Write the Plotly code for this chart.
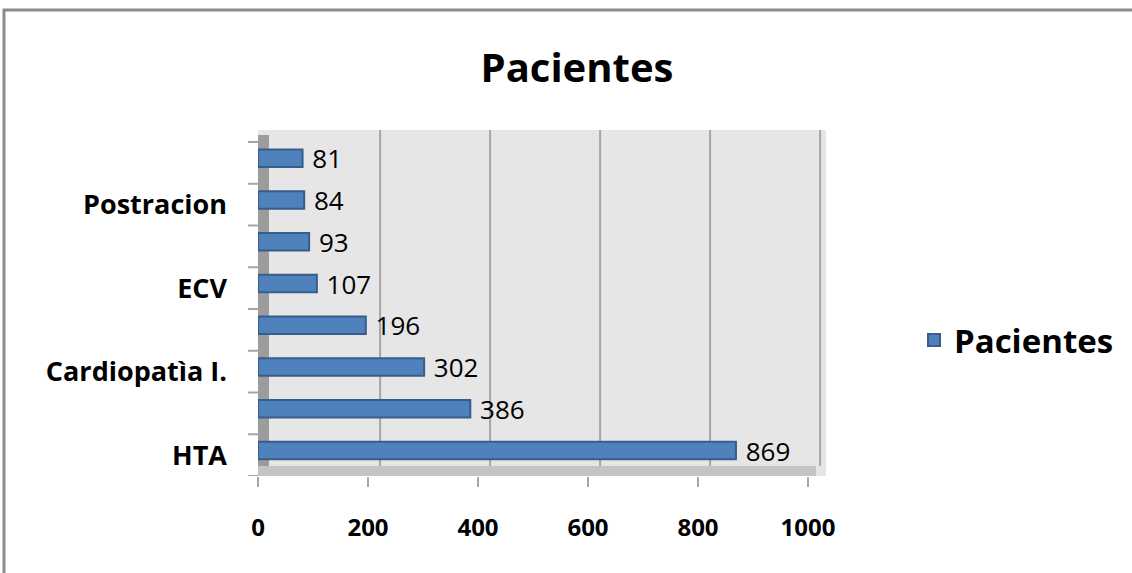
import plotly.graph_objects as go

# datos (de abajo hacia arriba)
posiciones = [0, 1, 2, 3, 4, 5, 6, 7]
etiquetas = ["HTA", "", "Cardiopatìa I.", "", "ECV", "", "Postracion", ""]
pacientes = [869, 386, 302, 196, 107, 93, 84, 81]
ticks_x = [0, 200, 400, 600, 800, 1000]

FUENTE = "Open Sans"
AZUL = "#4F81BD"
BORDE = "#385D8A"
GRIS = "#A6A6A6"

# area de trazado en pixeles
IZQ, DER, ARR, ABA = 258, 826, 130, 476
ANCHO = DER - IZQ
ALTO = ABA - ARR
RANGO_X = 1000 * ANCHO / 550
DESPLAZA = 22  # desplazamiento de la pared del fondo, en unidades del eje

fig = go.Figure()
fig.add_trace(go.Bar(
    x=pacientes,
    y=posiciones,
    orientation="h",
    name="Pacientes",
    width=0.42,
    offset=-0.1,
    marker=dict(color=AZUL, line=dict(color=BORDE, width=2)),
    text=pacientes,
    texttemplate=" %{x}",
    textposition="outside",
    constraintext="none",
    textfont=dict(family=FUENTE, size=26, color="black"),
    cliponaxis=False,
))

fig.update_layout(
    width=1132,
    height=573,
    margin=dict(l=IZQ, r=1132 - DER, t=ARR, b=573 - ABA),
    paper_bgcolor="white",
    plot_bgcolor="#E6E6E6",
    title=dict(
        text="<b>Pacientes</b>",
        x=577 / 1132,
        xref="container",
        xanchor="center",
        y=1 - 68 / 573,
        yref="container",
        yanchor="middle",
        font=dict(family=FUENTE, size=40, color="black"),
    ),
    showlegend=True,
    legend=dict(
        x=(914 - IZQ) / ANCHO,
        y=(ABA - 340) / ALTO,
        xanchor="left",
        yanchor="middle",
        font=dict(family=FUENTE, size=33, color="black", weight="bold"),
        bgcolor="rgba(0,0,0,0)",
    ),
)

fig.update_xaxes(
    range=[0, RANGO_X],
    tickvals=ticks_x,
    ticktext=[f"<b>{v}</b>" for v in ticks_x],
    tickfont=dict(family=FUENTE, size=24, color="black"),
    showgrid=False,
    zeroline=False,
    showline=False,
    ticks="outside",
    tickcolor=GRIS,
    tickwidth=2,
    ticklen=10,
    ticklabelstandoff=20,
    automargin=False,
)
fig.update_yaxes(
    range=[-0.5, 7.5 + 12 / 41.75],
    tickvals=posiciones,
    ticktext=[f"<b>{e}</b>" if e else "" for e in etiquetas],
    tickfont=dict(family=FUENTE, size=27, color="black"),
    showgrid=False,
    zeroline=False,
    showline=False,
    ticks="",
    ticklabelstandoff=30,
    automargin=False,
)

# rejilla de la pared del fondo (desplazada por la perspectiva)
for v in ticks_x[1:]:
    fig.add_shape(
        type="line", xref="x", yref="paper",
        x0=v + DESPLAZA, x1=v + DESPLAZA, y0=10 / ALTO, y1=1,
        line=dict(color=GRIS, width=2), layer="between",
    )

# pared izquierda y suelo (efecto 3D)
fig.add_shape(
    type="rect", xref="paper", yref="paper",
    x0=0, x1=11 / ANCHO, y0=0, y1=(ABA - 135) / ALTO,
    line=dict(width=0), fillcolor="#9C9C9C", layer="between",
)
fig.add_shape(
    type="rect", xref="paper", yref="paper",
    x0=0, x1=(816 - IZQ) / ANCHO, y0=0, y1=10 / ALTO,
    line=dict(width=0), fillcolor="#C4C4C4", layer="between",
)

# marcas entre categorias en el eje vertical
for i in range(9):
    fig.add_shape(
        type="line", xref="paper", yref="y",
        x0=-10 / ANCHO, x1=0, y0=i - 0.5, y1=i - 0.5,
        line=dict(color=GRIS, width=2),
    )

# marco exterior del grafico
fig.add_shape(
    type="rect", xref="paper", yref="paper",
    x0=(4 - IZQ) / ANCHO, x1=(1145 - IZQ) / ANCHO,
    y0=(ABA - 590) / ALTO, y1=(ABA - 10) / ALTO,
    line=dict(color="#8C8C8C", width=3),
    fillcolor="rgba(0,0,0,0)",
    layer="below",
)

fig.write_html(
    "out.html",
    config={"displayModeBar": False},
    post_script="document.body.style.margin='0';",
)
